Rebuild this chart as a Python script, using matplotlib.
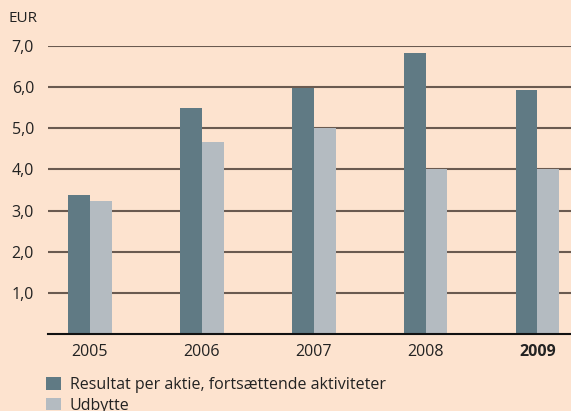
import matplotlib
matplotlib.use("Agg")
import matplotlib.pyplot as plt
import numpy as np

years = ["2005", "2006", "2007", "2008", "2009"]
eps = [3.38, 5.50, 5.98, 6.84, 5.94]
dividend = [3.24, 4.67, 5.01, 4.01, 4.00]
series_labels = ["Resultat per aktie, fortsættende aktiviteter", "Udbytte"]
yticks = [1, 2, 3, 4, 5, 6, 7]
ytick_labels = ["1,0", "2,0", "3,0", "4,0", "5,0", "6,0", "7,0"]

bg = "#fde3cf"
dark = "#607a84"
light = "#b4bbc1"
grid_c = "#6a5a50"
txt = "#222222"

plt.rcParams['font.family'] = ['Open Sans', 'DejaVu Sans']

W, H = 571, 411
fig = plt.figure(figsize=(W / 100, H / 100), dpi=100, facecolor=bg)
ax = fig.add_axes([48 / W, 1 - 334 / H, 523 / W, (334 - 46) / H])
ax.set_facecolor(bg)

x = np.arange(len(years))
bw = 0.195
for y in yticks:
    ax.axhline(y, color=grid_c, lw=1.5, zorder=0)
b1 = ax.bar(x - bw / 2, eps, bw, color=dark, label=series_labels[0], zorder=2)
b2 = ax.bar(x + bw / 2, dividend, bw, color=light, label=series_labels[1], zorder=2)

ax.set_xlim(-0.375, 4.3)
ax.set_ylim(0, 7)
ax.set_yticks(yticks)
ax.set_yticklabels(ytick_labels, fontsize=11.5, color=txt)
ax.set_xticks(x)
ax.set_xticklabels(years, fontsize=11.5, color=txt)
ax.get_xticklabels()[-1].set_fontweight("bold")
ax.tick_params(length=0)
ax.tick_params(axis="y", pad=10)
ax.tick_params(axis="x", pad=7)
for s in ["top", "right", "left"]:
    ax.spines[s].set_visible(False)
ax.spines["bottom"].set_color("#111111")
ax.spines["bottom"].set_linewidth(1.5)

fig.text(9 / W, 1 - 18 / H, "EUR", fontsize=11, va="center", ha="left", color=txt)

fig.legend(handles=[b1, b2], labels=series_labels, loc="upper left",
           bbox_to_anchor=(46 / W, 1 - 377 / H), frameon=False, fontsize=11.5,
           handlelength=0.95, handleheight=0.8, handletextpad=0.55,
           labelspacing=0.3, borderpad=0, borderaxespad=0, labelcolor=txt)

fig.savefig("out.png", dpi=100, facecolor=bg)
